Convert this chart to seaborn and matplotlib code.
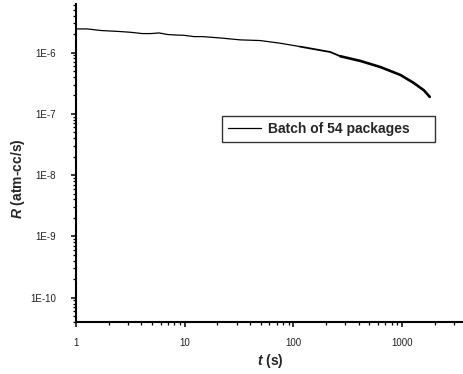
import numpy as np
import pandas as pd
import seaborn as sns
import matplotlib
matplotlib.use("Agg")
import matplotlib.pyplot as plt
from matplotlib.ticker import LogLocator, FuncFormatter, NullFormatter

# Leak rate of a batch of packages versus time
time_s = [1, 1.27, 1.69, 2.58, 3.19, 4.08, 4.87, 5.81, 6.93, 7.99, 9.87,
          12.2, 14.6, 21.2, 32.4, 49.4, 75.5, 115, 177, 218, 270, 412,
          630, 962, 1276, 1578, 1792]
leak_rate = [2.43e-6, 2.43e-6, 2.29e-6, 2.20e-6, 2.14e-6, 2.04e-6, 2.04e-6,
             2.09e-6, 1.97e-6, 1.94e-6, 1.91e-6, 1.82e-6, 1.82e-6, 1.73e-6,
             1.61e-6, 1.57e-6, 1.42e-6, 1.25e-6, 1.09e-6, 1.02e-6, 8.7e-7,
             7.3e-7, 5.8e-7, 4.31e-7, 3.19e-7, 2.43e-7, 1.89e-7]
series_label = "Batch of 54 packages"
x_ticks = [1, 10, 100, 1000]
y_ticks = [1e-10, 1e-9, 1e-8, 1e-7, 1e-6]

df = pd.DataFrame({"t": time_s, "R": leak_rate})

sns.set_theme(style="ticks")
plt.rcParams["font.family"] = ["Liberation Sans", "DejaVu Sans"]
plt.rcParams["mathtext.fontset"] = "custom"
plt.rcParams["mathtext.it"] = "Liberation Sans:style=italic:weight=bold"
plt.rcParams["mathtext.rm"] = "Liberation Sans:weight=bold"

fig = plt.figure(figsize=(4.64, 3.74), dpi=100)
ax = fig.add_axes([76 / 464, 1 - 322 / 374, 1 - 76 / 464, (322 - 4) / 374])

# the trace gets visually denser toward long times; draw it in pieces
pieces = [(0, 18, 0.9), (17, 21, 1.3), (20, len(df), 1.9)]
for k, (a, b, lw) in enumerate(pieces):
    sns.lineplot(data=df.iloc[a:b], x="t", y="R", ax=ax, color="black",
                 linewidth=lw, legend=False, sort=True)

ax.set_xscale("log")
ax.set_yscale("log")
ax.set_xlim(1, 3700)
ax.set_ylim(4e-11, 6.2e-6)

ax.set_xticks(x_ticks)
ax.xaxis.set_major_formatter(FuncFormatter(lambda v, p: f"{int(round(v))}"))
ax.xaxis.set_minor_locator(LogLocator(base=10, subs=np.arange(2, 10)))
ax.xaxis.set_minor_formatter(NullFormatter())

ax.set_yticks(y_ticks)
ax.yaxis.set_major_formatter(
    FuncFormatter(lambda v, p: f"1E{int(round(np.log10(v)))}"))
ax.yaxis.set_minor_locator(LogLocator(base=10, subs=np.arange(2, 10)))
ax.yaxis.set_minor_formatter(NullFormatter())

for s in ("top", "right"):
    ax.spines[s].set_visible(False)
for s in ("left", "bottom"):
    ax.spines[s].set_linewidth(1.5)
    ax.spines[s].set_color("black")

ax.tick_params(axis="both", which="major", direction="out", length=3.5,
               width=1.1, color="black", labelsize=7, labelcolor="#222222")
ax.tick_params(axis="y", which="major", pad=11)
ax.tick_params(axis="x", which="major", pad=8)
ax.tick_params(axis="both", which="minor", direction="out", length=2,
               width=0.9, color="black")

ax.set_xlabel(r"$\mathit{t}$ (s)", fontsize=10, fontweight="bold")
ax.set_ylabel(r"$\mathit{R}$ (atm-cc/s)", fontsize=10, fontweight="bold")
ax.xaxis.set_label_coords(0.5, -0.095)
ax.yaxis.set_label_coords(-0.127, 0.45)

leg = ax.legend(handles=ax.get_lines()[:1], labels=[series_label],
                loc="upper left", bbox_to_anchor=(0.3755, 0.567, 0.549, 0.081),
                mode="expand", borderaxespad=0, frameon=True, fancybox=False,
                handlelength=2.4, handletextpad=0.5, borderpad=0.45,
                prop={"size": 10, "weight": "bold"})
leg.get_frame().set_edgecolor("black")
leg.get_frame().set_linewidth(1.0)
leg.get_lines()[0].set_linewidth(0.9)

fig.savefig("out.png", dpi=100)
